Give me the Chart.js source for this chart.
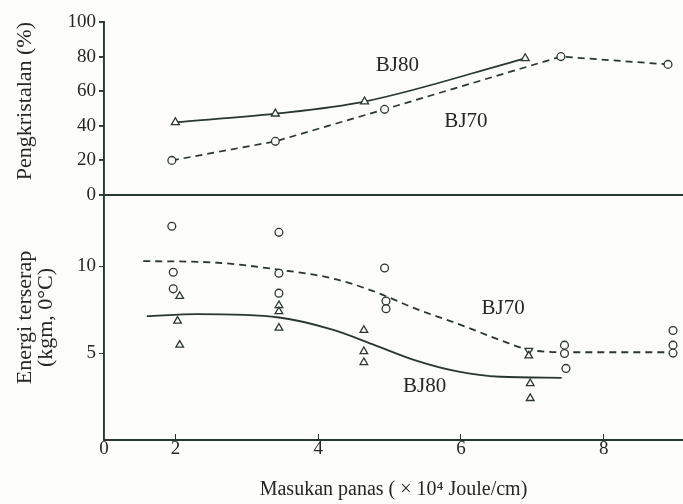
<!DOCTYPE html>
<html>
<head>
<meta charset="utf-8">
<script src="https://cdn.jsdelivr.net/npm/chart.js@4.4.1/dist/chart.umd.min.js"></script>
<style>
html, body { margin: 0; padding: 0; background: #fcfcfa; }
#wrap { width: 683px; height: 504px; }
canvas { display: block; }
</style>
</head>
<body>
<div id="wrap"><canvas id="c" width="683" height="504"></canvas></div>
<script>
// x axis: heat input (x 10^4 J/cm); the corner "0" sits at the axis origin
const xTicks = [1, 2, 4, 6, 8];

// top panel: crystallisation (%)
const crystX80 = [2.0, 3.4, 4.65, 6.9];
const crystY80 = [42, 47, 54, 79];
const crystX70 = [1.95, 3.4, 4.93, 7.4, 8.9];
const crystY70 = [20, 31, 49.5, 80, 75.5];

// bottom panel: absorbed energy, measured points
const energyX70 = [1.95, 1.97, 1.97, 3.45, 3.45, 3.45, 4.93, 4.95, 4.95, 7.45, 7.45, 7.47, 8.97, 8.97, 8.97];
const energyY70 = [12.3, 9.65, 8.7, 11.95, 9.6, 8.45, 9.9, 8.0, 7.55, 5.46, 4.98, 4.12, 6.3, 5.46, 5.0];
const energyX80 = [2.06, 2.03, 2.06, 3.45, 3.45, 3.45, 4.64, 4.64, 4.64, 6.95, 6.95, 6.97, 6.97];
const energyY80 = [8.28, 6.85, 5.47, 7.75, 7.4, 6.45, 6.32, 5.1, 4.47, 5.15, 4.85, 3.26, 2.4];
const energyRot80 = [0, 0, 0, 0, 0, 0, 0, 0, 0, 180, 0, 0, 0];

// bottom panel: fitted curves
const fitX70 = [1.55, 2.6, 3.45, 4.2, 4.75, 5.4, 5.95, 6.55, 6.95, 7.5, 9.0];
const fitY70 = [10.3, 10.2, 9.8, 9.3, 8.6, 7.5, 6.7, 5.75, 5.2, 5.05, 5.05];
const fitX80 = [1.6, 2.3, 3.45, 4.2, 4.8, 5.35, 5.95, 6.55, 7.41];
const fitY80 = [7.13, 7.24, 7.05, 6.35, 5.45, 4.6, 3.95, 3.64, 3.58];

// series labels written inside the plot
const notes = [
  { text: 'BJ80', x: 5.11, y: 75, axis: 'y' },
  { text: 'BJ70', x: 6.07, y: 42.3, axis: 'y' },
  { text: 'BJ70', x: 6.59, y: 7.57, axis: 'y2' },
  { text: 'BJ80', x: 5.49, y: 3.06, axis: 'y2' }
];

const INK = '#2a3731';
const TXT = '#262626';
const BG = '#fcfcfa';
const FONT = '"Liberation Serif", "DejaVu Serif", serif';

const zip = (xs, ys) => xs.map((x, i) => ({ x: x, y: ys[i] }));

Chart.defaults.font.family = FONT;
Chart.defaults.color = TXT;

const paper = {
  id: 'paper',
  beforeDraw(chart) {
    const ctx = chart.ctx;
    ctx.save();
    ctx.fillStyle = BG;
    ctx.fillRect(0, 0, chart.width, chart.height);
    ctx.restore();
  },
  afterDatasetsDraw(chart) {
    const ctx = chart.ctx;
    ctx.save();
    ctx.font = '21px ' + FONT;
    ctx.fillStyle = TXT;
    ctx.textAlign = 'center';
    ctx.textBaseline = 'middle';
    notes.forEach(n => {
      ctx.fillText(n.text, chart.scales.x.getPixelForValue(n.x), chart.scales[n.axis].getPixelForValue(n.y));
    });
    ctx.restore();
  }
};

const marks = { pointBorderColor: INK, pointBackgroundColor: BG, pointBorderWidth: 1.3 };

new Chart(document.getElementById('c').getContext('2d'), {
  type: 'scatter',
  data: {
    datasets: [
      Object.assign({ data: zip(crystX80, crystY80), yAxisID: 'y', showLine: true, borderColor: INK, borderWidth: 1.7,
        cubicInterpolationMode: 'monotone', pointStyle: 'triangle', pointRadius: 4.6 }, marks),
      Object.assign({ data: zip(crystX70, crystY70), yAxisID: 'y', showLine: true, borderColor: INK, borderWidth: 1.7,
        borderDash: [7, 5], pointStyle: 'circle', pointRadius: 3.9 }, marks),
      Object.assign({ data: zip(energyX70, energyY70), yAxisID: 'y2', pointStyle: 'circle', pointRadius: 3.9 }, marks),
      Object.assign({ data: zip(energyX80, energyY80), yAxisID: 'y2', pointStyle: 'triangle', pointRadius: 4.4,
        pointRotation: energyRot80 }, marks),
      { data: zip(fitX70, fitY70), yAxisID: 'y2', showLine: true, borderColor: INK, borderWidth: 1.8,
        borderDash: [7, 5], cubicInterpolationMode: 'monotone', pointRadius: 0 },
      { data: zip(fitX80, fitY80), yAxisID: 'y2', showLine: true, borderColor: INK, borderWidth: 1.8,
        cubicInterpolationMode: 'monotone', pointRadius: 0 }
    ]
  },
  options: {
    responsive: false,
    animation: false,
    devicePixelRatio: 1,
    events: [],
    layout: { autoPadding: false, padding: { top: 22, left: 0, right: 0, bottom: 0 } },
    plugins: { legend: { display: false }, tooltip: { enabled: false } },
    scales: {
      x: {
        type: 'linear', min: 1, max: 9.11,
        afterBuildTicks: s => { s.ticks = xTicks.map(v => ({ value: v })); },
        afterFit: s => { s.height = 64; s.paddingLeft = 0; s.paddingRight = 0; },
        border: { display: true, color: INK, width: 1.9 },
        grid: { drawOnChartArea: false, tickLength: -6, color: INK,
          tickColor: c => (c.tick && c.tick.value === 1) ? 'rgba(0,0,0,0)' : INK },
        ticks: { autoSkip: false, maxRotation: 0, padding: 3.6, font: { size: 19 },
          callback: v => v === 1 ? '0' : String(v) },
        title: { display: true, text: 'Masukan panas ( × 10⁴ Joule/cm)', font: { size: 20 },
          padding: { top: 0, bottom: 2 } }
      },
      y2: {
        type: 'linear', position: 'left', stack: 'panels', stackWeight: 245, weight: 1,
        min: 0, max: 14.1,
        afterFit: s => { s.width = 104; },
        border: { display: true, color: INK, width: 1.9 },
        grid: { drawOnChartArea: false, tickLength: 5,
          tickColor: c => (c.tick && c.tick.value === 0) ? 'rgba(0,0,0,0)' : INK },
        ticks: { stepSize: 5, includeBounds: false, autoSkip: false, padding: 3, font: { size: 19 },
          callback: v => v === 0 ? '' : String(v) },
        title: { display: true, text: ['Energi terserap', '(kgm, 0°C)'], font: { size: 22, lineHeight: 0.95 },
          padding: { top: 14.5, bottom: 0 } }
      },
      y: {
        type: 'linear', position: 'left', stack: 'panels', stackWeight: 173, weight: 2,
        min: 0, max: 100,
        afterFit: s => { s.width = 104; },
        border: { display: true, color: INK, width: 1.9 },
        grid: { drawOnChartArea: true, tickLength: 5, lineWidth: 1.9, tickColor: INK,
          color: c => (c.tick && c.tick.value === 0) ? INK : 'rgba(0,0,0,0)' },
        ticks: { stepSize: 20, autoSkip: false, padding: 3, font: { size: 19 } },
        title: { display: true, text: 'Pengkristalan (%)', align: 'end', font: { size: 22, lineHeight: 1.1 },
          padding: { top: 13, bottom: 0 } }
      }
    }
  },
  plugins: [paper]
});
</script>
</body>
</html>
